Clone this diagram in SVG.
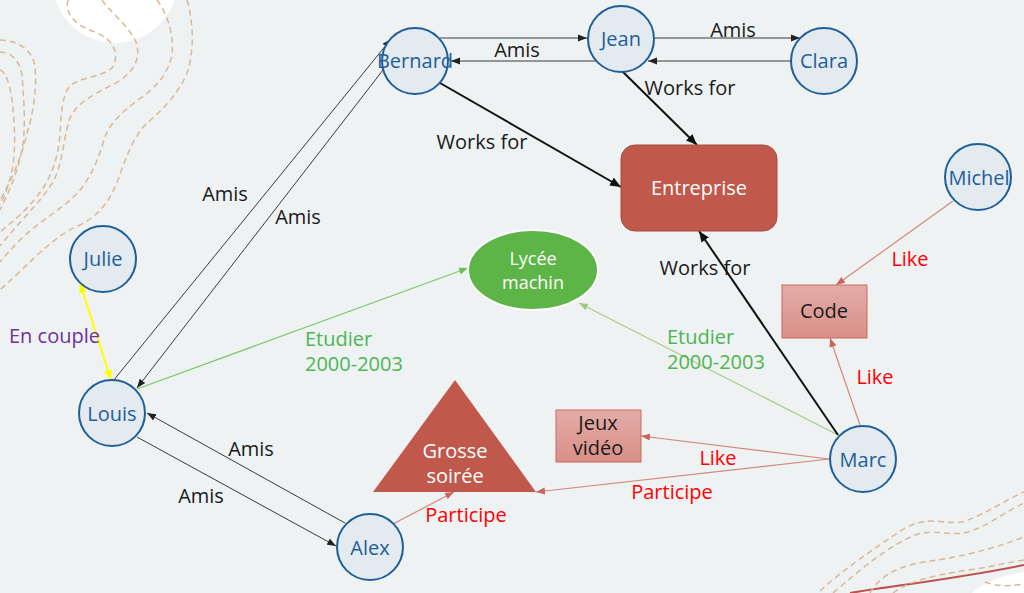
<svg xmlns="http://www.w3.org/2000/svg" width="1024" height="593" viewBox="0 0 1024 593">
<defs>
<style>
text{font-family:"Open Sans","Noto Sans","Liberation Sans",sans-serif;font-size:20px}
.node circle{fill:#E3EAF0;stroke:#1F5F99;stroke-width:2}
.node text{fill:#1F5F99;text-anchor:middle}
.deco{fill:none;stroke:#D9B896;stroke-width:1.5;stroke-dasharray:6 4}
.thin{stroke:#3A3A3A;stroke-width:1;fill:none;marker-end:url(#aBlk)}
.works{stroke:#111;stroke-width:2;fill:none;marker-end:url(#aBlk2)}
.sal{stroke:#D4877C;stroke-width:1.2;fill:none;marker-end:url(#aSal)}
.lbl{fill:#1A1A1A;text-anchor:middle}
.red{fill:#FF0000;text-anchor:middle}
.grn{fill:#4DB552}
.wt{fill:#fff;text-anchor:middle}
.box{fill:url(#gBox);stroke:#D0685C;stroke-width:1}
</style>
<marker id="aBlk" markerUnits="userSpaceOnUse" markerWidth="10" markerHeight="8" refX="9" refY="4" orient="auto"><path d="M0,0.5 L9,4 L0,7.5 Z" fill="#222"/></marker>
<marker id="aBlk2" markerUnits="userSpaceOnUse" markerWidth="12" markerHeight="10" refX="11" refY="5" orient="auto"><path d="M0,0.5 L11,5 L0,9.5 Z" fill="#111"/></marker>
<marker id="aSal" markerUnits="userSpaceOnUse" markerWidth="10" markerHeight="8" refX="9" refY="4" orient="auto"><path d="M0,0.5 L9,4 L0,7.5 Z" fill="#C9655A"/></marker>
<marker id="aGrn" markerUnits="userSpaceOnUse" markerWidth="10" markerHeight="8" refX="9" refY="4" orient="auto"><path d="M0,0.5 L9,4 L0,7.5 Z" fill="#6DBF5A"/></marker>
<marker id="aGrn2" markerUnits="userSpaceOnUse" markerWidth="10" markerHeight="8" refX="9" refY="4" orient="auto"><path d="M0,0.5 L9,4 L0,7.5 Z" fill="#9CC97A"/></marker>
<marker id="aYel" markerUnits="userSpaceOnUse" markerWidth="11" markerHeight="9" refX="10" refY="4.5" orient="auto-start-reverse"><path d="M0,0.5 L10,4.5 L0,8.5 Z" fill="#FFFF00"/></marker>
<linearGradient id="gBox" x1="0" y1="0" x2="0" y2="1"><stop offset="0" stop-color="#E3ACA7"/><stop offset="1" stop-color="#D98F87"/></linearGradient>
</defs>
<rect width="1024" height="593" fill="#EEF2F3"/>
<g id="decoration">
<circle cx="115" cy="-20" r="63" fill="#FFFFFF"/>
<path class="deco" d="M0,40 C15,40 30,48 34,62 C38,80 34,110 28,130 C22,155 12,180 0,200"/>
<path class="deco" d="M0,52 C12,52 20,62 22,75 C24,100 26,130 22,150 C18,170 10,190 0,210"/>
<path class="deco" d="M0,70 C6,72 10,85 12,100 C15,125 16,150 12,170 C9,185 5,195 0,205"/>
<path class="deco" d="M68,0 C65,12 72,24 95,32 C115,40 120,55 112,68 C100,78 82,76 70,86 C62,95 61,115 60,135 C58,160 50,180 38,195 C25,212 12,222 0,232"/>
<path class="deco" d="M102,0 C110,12 128,25 136,42 C142,60 132,75 112,85 C92,95 76,104 70,118 C64,135 63,160 55,178 C45,198 25,215 0,246"/>
<path class="deco" d="M157,0 C168,15 174,35 172,55 C168,75 155,88 138,100 C122,112 108,125 104,140 C98,160 92,175 80,190 C65,208 40,220 20,240 C12,248 6,255 0,262"/>
<path class="deco" d="M187,0 C193,20 195,50 187,73 C178,95 160,112 145,125 C132,140 125,160 118,180 C110,200 100,215 80,225 C55,235 35,258 0,290"/>
<path d="M972,593 C988,580 1005,575 1024,572 L1024,593 Z" fill="#FFFFFF"/>
<path d="M850,593 C900,585 960,578 1024,565" fill="none" stroke="#C0504D" stroke-width="2"/>
<path class="deco" d="M820,591 C845,568 875,548 905,528 C930,515 945,525 962,522 C985,515 1005,500 1024,492"/>
<path class="deco" d="M833,593 C860,570 885,548 915,535 C935,528 950,537 968,532 C990,525 1008,510 1024,503"/>
<path class="deco" d="M870,593 C880,575 900,565 930,561 C960,557 990,550 1024,537"/>
<path class="deco" d="M893,593 C910,580 940,574 975,569 C995,566 1010,562 1024,560"/>
<path class="deco" d="M985,582 C998,587 1010,586 1024,584"/>
</g>
<g id="connectors">
<line class="thin" x1="440" y1="38" x2="587" y2="38"/>
<line class="thin" x1="598" y1="61" x2="451" y2="61"/>
<line class="thin" x1="655" y1="38" x2="800" y2="38"/>
<line class="thin" x1="790" y1="61" x2="648" y2="61"/>
<line class="thin" x1="113" y1="381" x2="391" y2="39"/>
<line class="thin" x1="383" y1="70" x2="137" y2="388"/>
<line class="thin" x1="137" y1="437" x2="336" y2="546"/>
<line class="thin" x1="345" y1="523" x2="147" y2="413"/>
<line x1="80" y1="283" x2="111" y2="380" stroke="#FFFF00" stroke-width="2" marker-start="url(#aYel)" marker-end="url(#aYel)"/>
<line x1="137" y1="389" x2="468" y2="268" stroke="#7DC86A" stroke-width="1.2" marker-end="url(#aGrn)"/>
<line x1="836" y1="434" x2="579" y2="303" stroke="#A8CF7F" stroke-width="1.2" marker-end="url(#aGrn2)"/>
<line class="works" x1="440" y1="83" x2="621" y2="187"/>
<line class="works" x1="622" y1="71" x2="697" y2="145"/>
<line class="works" x1="838" y1="435" x2="699" y2="231"/>
<line class="sal" x1="953" y1="201" x2="836" y2="285"/>
<line class="sal" x1="860" y1="425" x2="830" y2="338"/>
<line class="sal" x1="829" y1="459" x2="641" y2="436"/>
<line class="sal" x1="829" y1="459" x2="536" y2="492"/>
<line class="sal" x1="393" y1="524" x2="454" y2="492"/>
<text class="lbl" x="517" y="57">Amis</text>
<text class="lbl" x="733" y="37">Amis</text>
<text class="lbl" x="690" y="95">Works for</text>
<text class="lbl" x="482" y="149">Works for</text>
<text class="lbl" x="705" y="275">Works for</text>
<text class="lbl" x="225" y="201">Amis</text>
<text class="lbl" x="298" y="224">Amis</text>
<text class="lbl" x="251" y="456">Amis</text>
<text class="lbl" x="201" y="503">Amis</text>
<text x="9" y="343" fill="#7030A0">En couple</text>
<text class="grn" x="305" y="346">Etudier<tspan x="305" dy="25">2000-2003</tspan></text>
<text class="grn" x="667" y="344">Etudier<tspan x="667" dy="25">2000-2003</tspan></text>
<text class="red" x="910" y="266">Like</text>
<text class="red" x="875" y="384">Like</text>
<text class="red" x="718" y="465">Like</text>
<text class="red" x="672" y="499">Participe</text>
<text class="red" x="466" y="522">Participe</text>
</g>
<g id="Bernard" class="node"><circle cx="415" cy="61" r="33"/><text x="415" y="68">Bernard</text></g>
<g id="Jean" class="node"><circle cx="621" cy="39" r="33"/><text x="621" y="46">Jean</text></g>
<g id="Clara" class="node"><circle cx="824" cy="61" r="33"/><text x="824" y="68">Clara</text></g>
<g id="Michel" class="node"><circle cx="978" cy="177" r="33"/><text x="979" y="185">Michel</text></g>
<g id="Julie" class="node"><circle cx="103" cy="259" r="33"/><text x="103" y="266">Julie</text></g>
<g id="Louis" class="node"><circle cx="112" cy="413" r="33"/><text x="112" y="421">Louis</text></g>
<g id="Alex" class="node"><circle cx="370" cy="547" r="33"/><text x="370" y="555">Alex</text></g>
<g id="Marc" class="node"><circle cx="863" cy="459" r="33"/><text x="863" y="467">Marc</text></g>
<g id="Entreprise"><rect x="621" y="145" width="156" height="86" rx="14" fill="#C0594B" stroke="#A94A3E" stroke-width="1"/><text class="wt" x="699" y="195">Entreprise</text></g>
<g id="Lycee"><ellipse cx="533" cy="270" rx="65" ry="40" fill="#5DB548" stroke="#FFFFFF" stroke-width="2"/><text class="wt" x="533" y="265" style="font-size:18px">Lycée<tspan x="533" dy="24">machin</tspan></text></g>
<g id="Code"><rect class="box" x="782" y="285" width="85" height="53"/><text class="lbl" x="824" y="318">Code</text></g>
<g id="Jeux"><rect class="box" x="556" y="410" width="85" height="52"/><text class="lbl" x="598" y="430">Jeux<tspan x="598" dy="25">vidéo</tspan></text></g>
<g id="Soiree"><polygon points="455,380 373,492 536,492" fill="#C0594B"/><text class="wt" x="455" y="458">Grosse<tspan x="455" dy="25">soirée</tspan></text></g>
</svg>
